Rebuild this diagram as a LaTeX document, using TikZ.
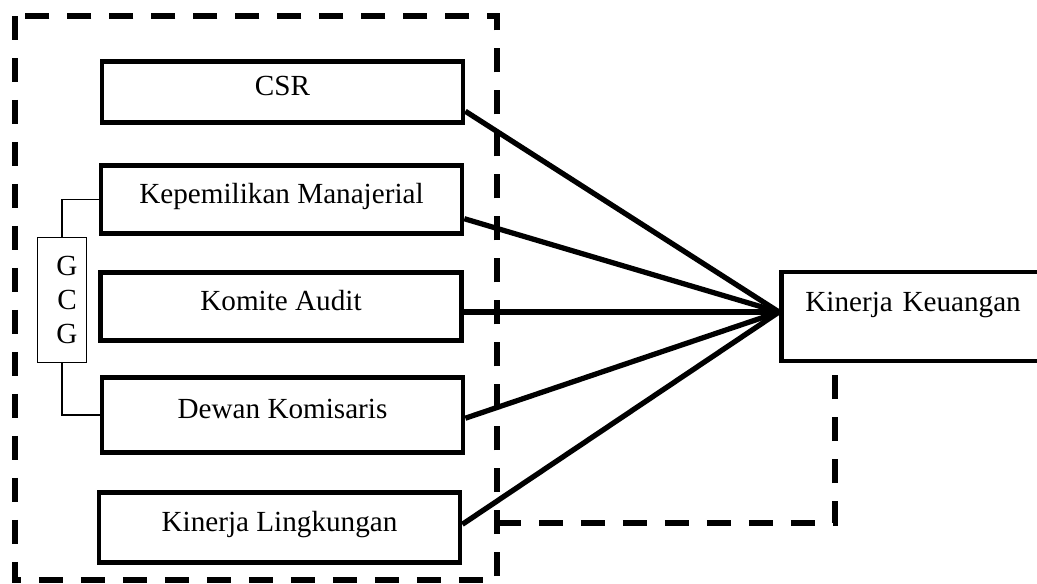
\documentclass[tikz,border=0pt]{standalone}
\usepackage{fontspec}
\setmainfont{Liberation Serif}
\usetikzlibrary{calc}
\tikzset{
    varbox/.style={
        draw, line width=2.7pt, minimum width=7.22cm, text depth=0.25cm,
        font=\fontsize{16.6}{20}\selectfont
    },
    frame/.style={
        line width=3pt, dash pattern=on 0.48cm off 0.36cm
    },
    link/.style={line width=3pt}
}

\begin{document}
\begin{tikzpicture}[x=0.02cm, y=-0.02cm]

    \useasboundingbox (0,0) rectangle (1037,583);

    \draw[frame] (15,16) rectangle (497,580);
    \draw[frame]
    (497,523)
    -- (835,523)
    -- (835,375);

    \node[varbox, minimum height=1.23cm] (csr) at (282.5,92) {CSR};
    \node[varbox, minimum height=1.37cm] (kep) at (281.5,199.5) {Kepemilikan Manajerial};
    \node[varbox, minimum height=1.37cm] (komite) at (281,306.5) {Komite Audit};
    \node[varbox, minimum height=1.51cm] (dewan) at (282.5,415) {Dewan Komisaris};
    \node[varbox, minimum height=1.41cm] (ling) at (279.5,527.5) {Kinerja Lingkungan};

    \node[draw, line width=2.7pt, anchor=west, minimum height=1.78cm,
          text width=4.7cm, inner xsep=0.48cm, align=left, text depth=0.58cm,
          font=\fontsize{16.6}{20}\selectfont] (kk) at (779,316.5) {Kinerja Keuangan};

    \node[draw, line width=0.7pt, minimum width=0.98cm, minimum height=2.5cm,
          align=center, inner sep=0pt,
          font=\fontsize{16.6}{19.4}\selectfont] (gcg) at (62,300) {\hspace{0.2cm}G\\\hspace{0.2cm}C\\\hspace{0.2cm}G};

    \draw[line width=0.7pt] (gcg.north) |- (kep.west);
    \draw[line width=0.7pt] (gcg.south) |- (dewan.west);

    \coordinate (hub) at ([yshift=0.09cm]kk.west);

    \draw[link] (csr.-6) -- (hub);
    \draw[link] (kep.-6) -- (hub);
    \draw[link] (komite.east |- hub) -- (hub);
    \draw[link] (dewan.-1) -- (hub);
    \draw[link] (ling.1) -- (hub);

\end{tikzpicture}
\end{document}
